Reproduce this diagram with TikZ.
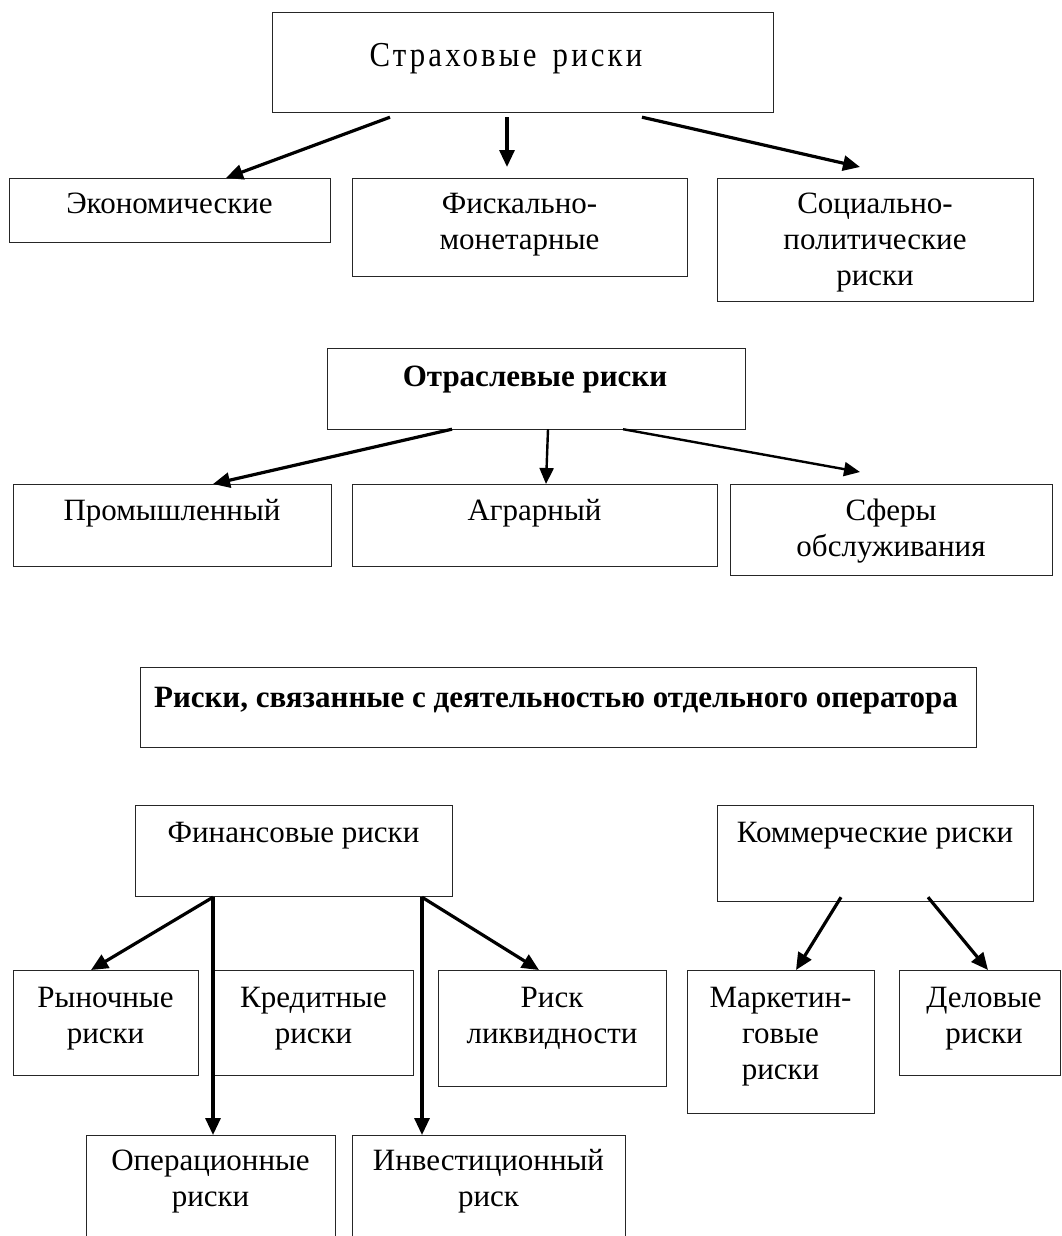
\documentclass[tikz,border=0pt]{standalone}
\usepackage{fontspec}
\setmainfont{Liberation Serif}
\newfontfamily\titlefont[LetterSpace=9,FakeStretch=0.88,WordSpace=1.5]{Liberation Serif}
\usetikzlibrary{arrows.meta,calc}
\newcommand\ml[1]{\begin{tabular}[t]{@{}c@{}}#1\end{tabular}}
\begin{document}
\begin{tikzpicture}[x=1pt,y=-1pt,
  box/.style={draw=black!85, line width=1.2pt, inner sep=0pt, anchor=north west},
  lbl/.style={anchor=base, inner sep=0pt, font=\fontsize{31}{36}\selectfont},
  blbl/.style={lbl, font=\fontsize{31}{36}\selectfont\bfseries},
  arr/.style={line width=3.2pt, -{Triangle[length=17pt,width=15pt]}},
  arrthin/.style={line width=2.4pt, -{Triangle[length=16pt,width=14pt]}},
]
\path[use as bounding box, clip] (0,0) rectangle (1062,1236);
\fill[white] (0,0) rectangle (1062,1236);

% ---------- Section 1 ----------
\node[box, minimum width=501, minimum height=100] (top) at (272,12) {};
\node[lbl, font=\fontsize{35}{40}\titlefont] (topt) at (506,67) {Страховые риски};

\node[box, minimum width=321, minimum height=64] (eco) at (9,178) {};
\node[lbl] (ecot) at (169.5,213) {Экономические};
\node[box, minimum width=335, minimum height=98] (fisk) at (352,178) {};
\node[lbl] (fiskt) at (519.5,213) {\ml{Фискально-\\монетарные}};
\node[box, minimum width=316, minimum height=123] (soc) at (717,178) {};
\node[lbl] (soct) at (875,213) {\ml{Социально-\\политические\\риски}};

\draw[arr] ($(top.south west)+(118,4)$) -- ($(eco.north west)+(217,0)$);
\draw[arr] ($(top.south west)+(235,4)$) -- ($(fisk.north west)+(155,-11)$);
\draw[arr] ($(top.south west)+(370,4)$) -- ($(soc.north west)+(143,-11)$);

% ---------- Section 2 ----------
\node[box, minimum width=418, minimum height=81] (otr) at (327,348) {};
\node[blbl] (otrt) at (535,386) {Отраслевые риски};

\node[box, minimum width=318, minimum height=82] (prom) at (13,484) {};
\node[lbl] (promt) at (172,520) {Промышленный};
\node[box, minimum width=365, minimum height=82] (agr) at (352,484) {};
\node[lbl] (agrt) at (534.5,520) {Аграрный};
\node[box, minimum width=322, minimum height=91] (sfe) at (730,484) {};
\node[lbl] (sfet) at (891,520) {\ml{Сферы\\обслуживания}};

\draw[arr] ($(otr.south west)+(125,-1)$) -- ($(prom.north west)+(200,0)$);
\draw[arrthin] ($(otr.south west)+(221,-1)$) -- ($(agr.north west)+(194,0)$);
\draw[arrthin] ($(otr.south west)+(296,-1)$) -- ($(sfe.north west)+(130,-12)$);

% ---------- Section 3 ----------
\node[box, minimum width=836, minimum height=80] (op) at (140,667) {};
\node[blbl] (opt) at (556,707) {Риски, связанные с деятельностью отдельного оператора};

\node[box, minimum width=317, minimum height=91] (fin) at (135,805) {};
\node[lbl] (fint) at (293.5,842) {Финансовые риски};
\node[box, minimum width=316, minimum height=96] (com) at (717,805) {};
\node[lbl] (comt) at (875,842) {Коммерческие риски};

\node[box, minimum width=185, minimum height=105] (ryn) at (13,970) {};
\node[lbl] (rynt) at (105.5,1007) {\ml{Рыночные\\риски}};
\node[box, minimum width=200, minimum height=105] (kre) at (213,970) {};
\node[lbl] (kret) at (313.5,1007) {\ml{Кредитные\\риски}};
\node[box, minimum width=228, minimum height=116] (liq) at (438,970) {};
\node[lbl] (liqt) at (552,1007) {\ml{Риск\\ликвидности}};
\node[box, minimum width=187, minimum height=143] (mar) at (687,970) {};
\node[lbl] (mart) at (780.5,1007) {\ml{Маркетин-\\говые\\риски}};
\node[box, minimum width=161, minimum height=105] (del) at (899,970) {};
\node[lbl] (delt) at (984,1007) {\ml{Деловые\\риски}};

\node[box, minimum width=249, minimum height=130] (oper) at (86,1135) {};
\node[lbl] (opert) at (210.5,1170) {\ml{Операционные\\риски}};
\node[box, minimum width=273, minimum height=130] (inv) at (352,1135) {};
\node[lbl] (invt) at (488.5,1170) {\ml{Инвестиционный\\риск}};

\draw[arr] ($(fin.south west)+(78,0)$) -- ($(ryn.north west)+(78,0)$);
\draw[arr] ($(fin.south west)+(78,0)$) -- ($(oper.north west)+(127,0)$);
\draw[arr] ($(fin.south west)+(287,0)$) -- ($(inv.north west)+(70,0)$);
\draw[arr] ($(fin.south west)+(287,0)$) -- ($(liq.north west)+(101,0)$);
\draw[arr] ($(com.south west)+(124,-5)$) -- ($(mar.north west)+(109,0)$);
\draw[arr] ($(com.south west)+(211,-5)$) -- ($(del.north west)+(89,0)$);
\end{tikzpicture}
\end{document}
